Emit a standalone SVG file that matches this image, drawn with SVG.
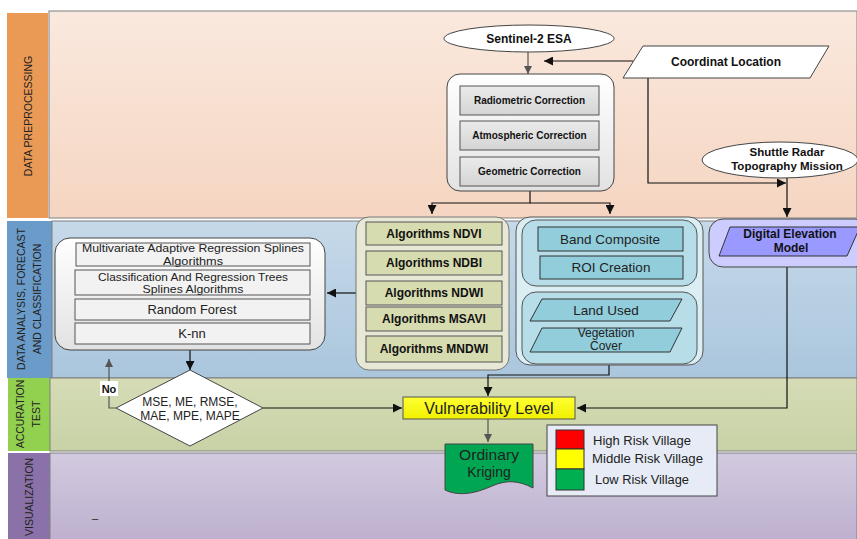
<svg xmlns="http://www.w3.org/2000/svg" width="857" height="539" viewBox="0 0 857 539">
<defs>
<linearGradient id="g1" x1="0" y1="0" x2="0" y2="1"><stop offset="0" stop-color="#fae9de"/><stop offset="1" stop-color="#f5d5c1"/></linearGradient>
<linearGradient id="g2" x1="0" y1="0" x2="0" y2="1"><stop offset="0" stop-color="#c6d9e9"/><stop offset="1" stop-color="#aac6dd"/></linearGradient>
<linearGradient id="g3" x1="0" y1="0" x2="0" y2="1"><stop offset="0" stop-color="#d5dcb6"/><stop offset="1" stop-color="#c8d2a6"/></linearGradient>
<linearGradient id="g4" x1="0" y1="0" x2="0" y2="1"><stop offset="0" stop-color="#d2cadf"/><stop offset="1" stop-color="#bdb0cf"/></linearGradient>
<linearGradient id="gc" x1="0" y1="0" x2="0" y2="1"><stop offset="0" stop-color="#ffffff"/><stop offset="1" stop-color="#e2e2e2"/></linearGradient>
<linearGradient id="gb" x1="0" y1="0" x2="0" y2="1"><stop offset="0" stop-color="#ebebeb"/><stop offset="1" stop-color="#d4d4d4"/></linearGradient>
<linearGradient id="gy" x1="0" y1="0" x2="0" y2="1"><stop offset="0" stop-color="#ffff33"/><stop offset="1" stop-color="#f0f000"/></linearGradient>
<marker id="ah" viewBox="0 0 10 10" refX="10" refY="5" markerWidth="9" markerHeight="9" markerUnits="userSpaceOnUse" orient="auto"><path d="M0,0 L10,5 L0,10 Z" fill="#111"/></marker>
<marker id="ahg" viewBox="0 0 10 10" refX="10" refY="5" markerWidth="8" markerHeight="8" markerUnits="userSpaceOnUse" orient="auto"><path d="M0,0 L10,5 L0,10 Z" fill="#555"/></marker>
</defs>
<style>
.lbl{font-family:"Liberation Sans",Arial,sans-serif;font-size:10.5px;fill:#222;text-anchor:middle}
.b{font-family:"Liberation Sans",Arial,sans-serif;font-weight:bold;fill:#111;text-anchor:middle}
.n{font-family:"Liberation Sans",Arial,sans-serif;fill:#222;text-anchor:middle}
.box{fill:url(#gb);stroke:#555;stroke-width:1}
.alg{fill:#d6dbb0;stroke:#555;stroke-width:1}
.cy{fill:#92cddc;stroke:#333;stroke-width:1}
.ln{fill:none;stroke:#111;stroke-width:1.2}
.lng{fill:none;stroke:#555;stroke-width:1.2}
</style>

<!-- lanes -->
<g id="lane-preprocessing">
<rect x="7" y="13" width="41" height="205" fill="#eb9a55"/>
<rect x="49" y="11" width="808" height="207" fill="url(#g1)" stroke="#7f7f7f"/>
<text class="lbl" transform="translate(32,116) rotate(-90)">DATA PREPROCESSING</text>
</g>
<g id="lane-analysis">
<rect x="7" y="221" width="45" height="157" fill="#6b9bc8"/>
<rect x="52" y="221" width="805" height="157" fill="url(#g2)" stroke="#7f7f7f"/>
<text class="lbl" transform="translate(25,299) rotate(-90)">DATA ANALYSIS, FORECAST</text>
<text class="lbl" transform="translate(41,299) rotate(-90)">AND CLASSIFICATION</text>
</g>
<g id="lane-accuration">
<rect x="8" y="378" width="42" height="73" fill="#92d050"/>
<rect x="50" y="378" width="807" height="73" fill="url(#g3)" stroke="#7f7f7f"/>
<text class="lbl" transform="translate(24,414) rotate(-90)">ACCURATION</text>
<text class="lbl" transform="translate(40,414) rotate(-90)">TEST</text>
</g>
<g id="lane-visualization">
<rect x="8" y="453" width="42" height="86" fill="#8a72a8"/>
<rect x="50" y="453" width="807" height="90" fill="url(#g4)" stroke="#7f7f7f"/>
<text class="lbl" transform="translate(33,497) rotate(-90)">VISUALIZATION</text>
<text class="n" x="95" y="522" font-size="11">–</text>
</g>

<!-- connectors -->
<g id="connectors">
<path class="lng" d="M528,52 V74" marker-end="url(#ahg)"/>
<path class="ln" d="M633,61 H544" marker-end="url(#ah)"/>
<path class="ln" d="M648,78 V183 H786" marker-end="url(#ah)"/>
<path class="ln" d="M787,178 V217" marker-end="url(#ah)"/>
<path class="ln" d="M530,191 V203 H432 V214" marker-end="url(#ah)"/>
<path class="ln" d="M530,203 H610 V214" marker-end="url(#ah)"/>
<path class="ln" d="M356,293 H327" marker-end="url(#ah)"/>
<path class="ln" d="M190,350 V370" marker-end="url(#ah)"/>
<path class="lng" d="M116,408 H109 V359" marker-end="url(#ahg)"/>
<path class="ln" d="M263,408 H402" marker-end="url(#ah)"/>
<path class="ln" d="M609,365 V375 H488 V396" marker-end="url(#ah)"/>
<path class="ln" d="M787,267 V408 H577" marker-end="url(#ah)"/>
<path class="lng" d="M488,419 V442" marker-end="url(#ahg)"/>
</g>

<!-- preprocessing nodes -->
<g id="sentinel">
<ellipse cx="529" cy="38.5" rx="85" ry="13.5" fill="#fff" stroke="#444"/>
<text class="b" x="529" y="43" font-size="12">Sentinel-2 ESA</text>
</g>
<g id="coordinat">
<polygon points="643,46 829,46 810,78 623,78" fill="#fff" stroke="#444"/>
<text class="b" x="726" y="66" font-size="12">Coordinat Location</text>
</g>
<g id="corrections">
<rect x="447" y="74" width="167" height="117" rx="13" fill="url(#gc)" stroke="#444"/>
<rect class="box" x="460" y="86" width="139" height="29"/>
<text class="b" x="529.5" y="104" font-size="10">Radiometric Correction</text>
<rect class="box" x="460" y="121" width="139" height="29"/>
<text class="b" x="529.5" y="139" font-size="10">Atmospheric Correction</text>
<rect class="box" x="460" y="157" width="139" height="29"/>
<text class="b" x="529.5" y="175" font-size="10">Geometric Correction</text>
</g>
<g id="srtm">
<ellipse cx="780" cy="160" rx="78" ry="18" fill="#fff" stroke="#444"/>
<text class="b" x="787" y="156" font-size="11.5">Shuttle Radar</text>
<text class="b" x="787" y="170" font-size="11.5">Topography Mission</text>
</g>

<!-- analysis nodes -->
<g id="ml-models">
<rect x="55" y="238" width="270" height="112" rx="15" fill="url(#gc)" stroke="#444"/>
<rect x="76" y="243" width="234" height="23" fill="#f2f2f2" stroke="#555"/>
<text class="n" x="193" y="252" font-size="11" textLength="222" lengthAdjust="spacingAndGlyphs">Multivariate Adaptive Regression Splines</text>
<text class="n" x="193" y="264.5" font-size="11" textLength="60" lengthAdjust="spacingAndGlyphs">Algorithms</text>
<rect x="75" y="270" width="235" height="25" fill="#f2f2f2" stroke="#555"/>
<text class="n" x="193" y="280.5" font-size="11.5" textLength="190" lengthAdjust="spacingAndGlyphs">Classification And Regression Trees</text>
<text class="n" x="193" y="293" font-size="11.5" textLength="101" lengthAdjust="spacingAndGlyphs">Splines Algorithms</text>
<rect x="75" y="299" width="235" height="21" fill="#f2f2f2" stroke="#555"/>
<text class="n" x="192" y="314" font-size="13" textLength="89" lengthAdjust="spacingAndGlyphs">Random Forest</text>
<rect x="75" y="323" width="235" height="21" fill="#f2f2f2" stroke="#555"/>
<text class="n" x="192" y="338" font-size="13">K-nn</text>
</g>
<g id="indices">
<rect x="356" y="217" width="153" height="153" rx="13" fill="#e7e9d6" stroke="#777"/>
<rect class="alg" x="366" y="222" width="136" height="23"/>
<text class="b" x="434" y="238" font-size="12">Algorithms NDVI</text>
<rect class="alg" x="366" y="251" width="136" height="24"/>
<text class="b" x="434" y="267" font-size="12">Algorithms NDBI</text>
<rect class="alg" x="366" y="281" width="136" height="24"/>
<text class="b" x="434" y="297" font-size="12">Algorithms NDWI</text>
<rect class="alg" x="366" y="307" width="136" height="24"/>
<text class="b" x="434" y="323" font-size="12">Algorithms MSAVI</text>
<rect class="alg" x="366" y="336" width="136" height="26"/>
<text class="b" x="434" y="353" font-size="12">Algorithms MNDWI</text>
</g>
<g id="classification">
<rect x="516" y="217" width="187" height="148" rx="14" fill="#dbeef3" stroke="#555"/>
<rect x="522" y="220" width="175" height="66" rx="14" fill="#b7dde8" stroke="#555"/>
<rect class="cy" x="538" y="227" width="145" height="24"/>
<text class="n" x="610" y="244" font-size="13.5" fill="#111">Band Composite</text>
<rect class="cy" x="540" y="256" width="143" height="23"/>
<text class="n" x="611" y="272" font-size="13.5" fill="#111">ROI Creation</text>
<rect x="522" y="292" width="175" height="72" rx="14" fill="#b7dde8" stroke="#555"/>
<polygon class="cy" points="542,299 682,299 670,321 530,321"/>
<text class="n" x="606" y="315" font-size="13.5" fill="#111">Land Used</text>
<polygon class="cy" points="542,328 682,328 670,352 530,352"/>
<text class="n" x="606" y="337" font-size="12" fill="#111">Vegetation</text>
<text class="n" x="606" y="350" font-size="12" fill="#111">Cover</text>
</g>
<g id="dem">
<rect x="709" y="219" width="160" height="48" rx="14" fill="#ccccff" stroke="#444"/>
<polygon points="730,227 860,227 847,256 719,256" fill="#9999ff" stroke="#333"/>
<text class="b" x="790" y="238" font-size="12">Digital Elevation</text>
<text class="b" x="791" y="252" font-size="12">Model</text>
</g>

<!-- accuration nodes -->
<g id="metrics">
<polygon points="190,370 263,408 190,446 116,408" fill="#fff" stroke="#444"/>
<text class="n" x="190" y="406" font-size="12">MSE, ME, RMSE,</text>
<text class="n" x="190" y="420" font-size="12">MAE, MPE, MAPE</text>
<rect x="100" y="381" width="18" height="15" fill="#fff"/>
<text class="b" x="109" y="393" font-size="11">No</text>
</g>
<g id="vulnerability">
<rect x="403" y="397" width="172" height="22" fill="url(#gy)" stroke="#555"/>
<text class="n" x="489" y="414" font-size="16" fill="#111">Vulnerability Level</text>
</g>
<g id="kriging">
<path d="M445,444 H533 V488 C518,480 506,480 492,486 C476,493 460,497 445,490 Z" fill="#00a651" stroke="#444"/>
<text class="n" x="489" y="460" font-size="14" fill="#111" textLength="60" lengthAdjust="spacingAndGlyphs">Ordinary</text>
<text class="n" x="489" y="477" font-size="14" fill="#111">Kriging</text>
</g>
<g id="legend">
<rect x="547" y="425" width="170" height="71" fill="#e6ebf5" stroke="#444"/>
<rect x="556" y="430" width="28" height="19" fill="#ff0000" stroke="#333"/>
<rect x="556" y="449" width="28" height="20" fill="#ffff00" stroke="#333"/>
<rect x="556" y="469" width="28" height="21" fill="#00b050" stroke="#333"/>
<text class="n" x="593" y="445" font-size="12.5" style="text-anchor:start" textLength="98" lengthAdjust="spacingAndGlyphs">High Risk Village</text>
<text class="n" x="592" y="463" font-size="12.5" style="text-anchor:start" textLength="111" lengthAdjust="spacingAndGlyphs">Middle Risk Village</text>
<text class="n" x="595" y="484" font-size="12.5" style="text-anchor:start" textLength="94" lengthAdjust="spacingAndGlyphs">Low Risk Village</text>
</g>
</svg>
